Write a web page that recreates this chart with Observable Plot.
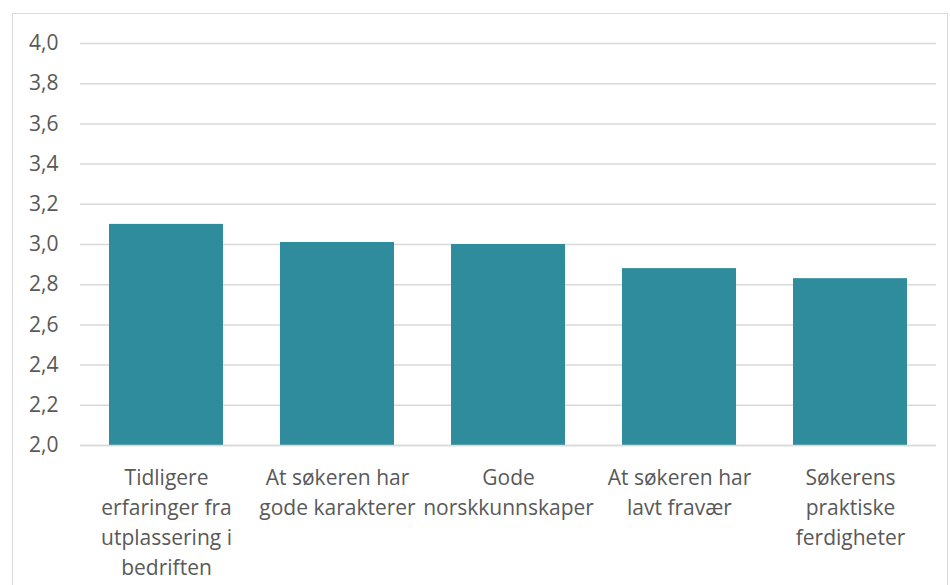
<!DOCTYPE html>
<html><head><meta charset="utf-8">
<script src="https://cdn.jsdelivr.net/npm/d3@7"></script>
<script src="https://cdn.jsdelivr.net/npm/@observablehq/plot@0.6"></script>
<style>
body{margin:0;background:#fff;}
#wrap{position:relative;width:950px;height:585px;overflow:hidden;}
#frame{position:absolute;left:12px;top:13px;width:934px;height:600px;border:1.5px solid #d9d9d9;pointer-events:none;}
</style></head><body>
<div id="wrap"><div id="frame"></div><div id="chart"></div></div>
<script>
const categories = [
  "Tidligere erfaringer fra utplassering i bedriften",
  "At søkeren har gode karakterer",
  "Gode norskkunnskaper",
  "At søkeren har lavt fravær",
  "Søkerens praktiske ferdigheter"
];
const tickLabels = [
  "Tidligere\nerfaringer fra\nutplassering i\nbedriften",
  "At søkeren har\ngode karakterer",
  "Gode\nnorskkunnskaper",
  "At søkeren har\nlavt fravær",
  "Søkerens\npraktiske\nferdigheter"
];
const values = [3.10, 3.01, 3.00, 2.88, 2.83];
const yTicks = [2.0, 2.2, 2.4, 2.6, 2.8, 3.0, 3.2, 3.4, 3.6, 3.8, 4.0];

const data = categories.map((c, i) => ({cat: c, value: values[i]}));
const labelOf = new Map(categories.map((c, i) => [c, tickLabels[i]]));
const fmt = d => d3.format(".1f")(d).replace(".", ",");

const chart = Plot.plot({
  width: 950, height: 585,
  marginLeft: 80, marginRight: 14, marginTop: 43, marginBottom: 140,
  style: {fontFamily: "'Open Sans', sans-serif", fontSize: "21px", color: "#595959", background: "transparent"},
  x: {domain: categories, paddingInner: 0.333, paddingOuter: 0.1667, label: null},
  y: {domain: [2, 4], label: null},
  marks: [
    Plot.ruleY(yTicks, {stroke: "#d9d9d9", strokeWidth: 1.5}),
    Plot.barY(data, {x: "cat", y1: 2, y2: "value", fill: "#2E8C9C"}),
    Plot.ruleY([2], {stroke: "#d9d9d9", strokeWidth: 1.5}),
    Plot.axisY(yTicks, {tickSize: 0, tickPadding: 22, tickFormat: fmt, fontSize: 21, fill: "#595959"}),
    Plot.axisX({tickSize: 0, tickPadding: 18, tickFormat: d => labelOf.get(d), lineHeight: 1.43, fontSize: 21, fill: "#595959"})
  ]
});
document.getElementById("chart").appendChild(chart);
</script>
</body></html>
